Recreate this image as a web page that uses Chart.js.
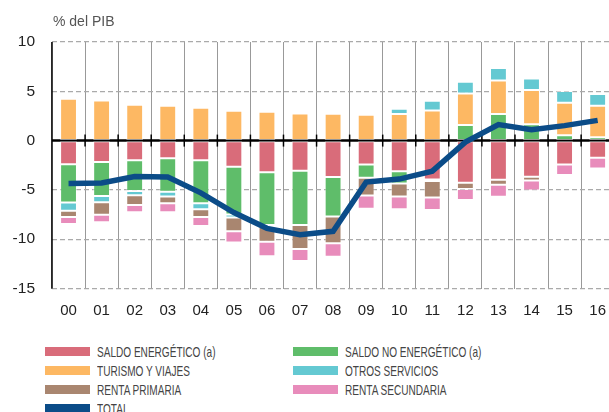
<!DOCTYPE html>
<html>
<head>
<meta charset="utf-8">
<script src="https://cdn.jsdelivr.net/npm/chart.js@4.4.1/dist/chart.umd.min.js"></script>
<style>
  body { margin: 0; background: #fff; overflow: hidden; font-family: "Liberation Sans", Arial, sans-serif; }
  #wrap { position: relative; width: 609px; height: 412px; overflow: hidden; }
  #salesChart { position: absolute; left: 0; top: 0; }
  #title { position: absolute; left: 53px; top: 13px; font-size: 14px; color: #555; }
  #legend { position: absolute; left: 45px; top: 342px; display: grid; grid-template-columns: 248px 248px; }
  .item { display: flex; align-items: center; height: 19px; }
  .sw { width: 45px; height: 9px; margin-right: 7px; flex: none; }
  .lbl { font-family: "Liberation Sans Narrow", "Liberation Sans", Arial, sans-serif; font-size: 15px; color: #444; white-space: nowrap; transform-origin: left center; display: inline-block; }
</style>
</head>
<body>
<div id="wrap">
  <canvas id="salesChart" width="619" height="335"></canvas>
  <div id="title">% del PIB</div>
  <div id="legend"></div>
</div>
<script>
// data
const years = ["00", "01", "02", "03", "04", "05", "06", "07", "08", "09", "10", "11", "12", "13", "14", "15", "16"];
const saldoEnergetico = [-2.4, -2.16, -2.0, -1.8, -2.0, -2.66, -3.2, -3.06, -3.7, -2.42, -3.1, -3.94, -4.28, -3.97, -3.67, -2.42, -1.75];
const saldoNoEnergetico = [-3.87, -3.46, -3.1, -3.4, -4.35, -4.84, -5.35, -5.49, -4.0, -1.35, -1.24, -0.16, 1.58, 2.69, 1.65, 0.54, 0.33];
const turismo = [4.24, 4.07, 3.64, 3.54, 3.33, 3.03, 2.93, 2.76, 2.73, 2.63, 2.7, 3.06, 3.2, 3.4, 3.47, 3.3, 3.2];
const otrosServicios = [-0.84, -0.64, -0.44, -0.48, -0.6, -0.3, -0.2, 0, 0, 0.17, 0.53, 0.98, 1.18, 1.28, 1.17, 1.2, 1.2];
const rentaPrimaria = [-0.64, -1.25, -0.98, -0.67, -0.8, -1.39, -1.52, -2.45, -2.7, -1.79, -1.32, -1.66, -0.64, -0.51, -0.37, 0, 0.15];
const rentaSecundaria = [-0.71, -0.77, -0.74, -0.91, -0.9, -1.14, -1.45, -1.2, -1.38, -1.34, -1.31, -1.28, -1.11, -1.21, -1.01, -1.08, -1.08];
const total = [-4.34, -4.3, -3.65, -3.7, -5.3, -7.3, -8.9, -9.55, -9.2, -4.21, -3.9, -3.1, -0.15, 1.62, 1.11, 1.52, 2.05];
const yTicks = [10, 5, 0, -5, -10, -15];

const bar = (label, data, color) => ({
  type: "bar",
  label: label,
  data: data,
  backgroundColor: color,
  borderColor: "rgba(255,255,255,0.45)",
  borderWidth: 1,
  borderSkipped: false,
  categoryPercentage: 1,
  barPercentage: 0.51,
  order: 1,
});

// y axis, zero line + little black ticks on it
const zeroLine = {
  id: "zeroLine",
  beforeDatasetsDraw(chart) {
    const { ctx, chartArea, scales } = chart;
    const y0 = scales.y.getPixelForValue(0);
    ctx.save();
    ctx.strokeStyle = "#000";
    ctx.lineWidth = 1.5;
    ctx.beginPath();
    ctx.moveTo(chartArea.left, chartArea.top);
    ctx.lineTo(chartArea.left, chartArea.bottom);
    ctx.stroke();
    ctx.lineWidth = 2.5;
    ctx.beginPath();
    ctx.moveTo(chartArea.left, y0);
    ctx.lineTo(chartArea.right, y0);
    ctx.stroke();
    ctx.lineWidth = 1.5;
    const w = (chartArea.right - chartArea.left) / years.length;
    for (let i = 1; i < years.length; i++) {
      const x = chartArea.left + w * i;
      ctx.beginPath();
      ctx.moveTo(x, y0 - 6);
      ctx.lineTo(x, y0 + 6);
      ctx.stroke();
    }
    ctx.restore();
  },
};

const ctx = document.getElementById("salesChart");
const chart = new Chart(ctx, {
  data: {
    labels: years,
    datasets: [
      bar("SALDO ENERGÉTICO (a)", saldoEnergetico, "#D96C7A"),
      bar("SALDO NO ENERGÉTICO (a)", saldoNoEnergetico, "#5FBD6A"),
      bar("TURISMO Y VIAJES", turismo, "#FDB863"),
      bar("OTROS SERVICIOS", otrosServicios, "#64C9D2"),
      bar("RENTA PRIMARIA", rentaPrimaria, "#A98670"),
      bar("RENTA SECUNDARIA", rentaSecundaria, "#E88CBB"),
      {
        type: "line",
        label: "TOTAL",
        data: total,
        borderColor: "#0B4C88",
        backgroundColor: "#0B4C88",
        borderWidth: 5.5,
        pointRadius: 0,
        tension: 0,
        order: 0,
      },
    ],
  },
  options: {
    responsive: false,
    animation: false,
    layout: { padding: { top: 42, left: 0, right: 0, bottom: 0 } },
    plugins: {
      legend: { display: false },
      tooltip: { enabled: false },
    },
    scales: {
      x: {
        stacked: true,
        offset: true,
        grid: { offset: true, color: "#999", lineWidth: 1, drawTicks: false },
        border: { display: false },
        ticks: { color: "#222", font: { family: "Liberation Sans", size: 15 }, padding: 13, maxRotation: 0 },
        afterFit(scale) { scale.height = 46.5; },
      },
      y: {
        stacked: true,
        min: -15,
        max: 10,
        afterBuildTicks(scale) { scale.ticks = yTicks.map((v) => ({ value: v })); },
        grid: {
          color: (c) => (c.tick && c.tick.value === 0 ? "rgba(0,0,0,0)" : "#aaa"),
          lineWidth: 1.2,
          drawTicks: false,
        },
        border: { display: false, dash: [5, 3] },
        ticks: { color: "#222", font: { family: "Liberation Sans", size: 15.5 }, padding: 17 },
        afterFit(scale) { scale.width = 52; },
      },
    },
  },
  plugins: [zeroLine],
});

// legend in two columns, same order as the datasets
const legend = document.getElementById("legend");
chart.data.datasets.forEach((ds) => {
  const item = document.createElement("div");
  item.className = "item";
  const sw = document.createElement("span");
  sw.className = "sw";
  sw.style.background = ds.type === "line" ? ds.borderColor : ds.backgroundColor;
  const lbl = document.createElement("span");
  lbl.className = "lbl";
  lbl.textContent = ds.label;
  item.appendChild(sw);
  item.appendChild(lbl);
  legend.appendChild(item);
});
// squeeze the text to the condensed look of the original
const ref = [...legend.querySelectorAll(".lbl")].find((l) => l.textContent === "TURISMO Y VIAJES");
const k = 93 / ref.getBoundingClientRect().width;
legend.querySelectorAll(".lbl").forEach((l) => { l.style.transform = "scaleX(" + k + ")"; });
</script>
</body>
</html>
